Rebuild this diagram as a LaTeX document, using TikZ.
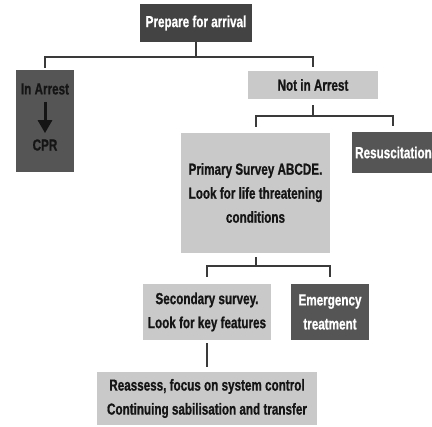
\documentclass[tikz,border=0pt]{standalone}
\usepackage{fontspec}
\setmainfont{Liberation Sans}[FakeStretch=0.73, BoldFeatures={FakeBold=0.8}]
\usetikzlibrary{arrows.meta}
\definecolor{darkbox}{HTML}{555555}
\definecolor{topbox}{HTML}{434343}
\definecolor{lightbox}{HTML}{C9C9C9}
\definecolor{linec}{HTML}{3A3A3A}
\definecolor{txt}{HTML}{151515}
\begin{document}
\begin{tikzpicture}[x=1pt,y=-1pt,
  box/.style={rectangle, inner sep=0pt, align=center, font=\fontsize{16}{24}\selectfont\bfseries},
  dark/.style={box, fill=darkbox, text=white},
  light/.style={box, fill=lightbox, text=txt},
  conn/.style={draw=linec, line width=2pt}]
\useasboundingbox (0,0) rectangle (432,427);
\clip (0,0) rectangle (432,427);
\fill[white] (0,0) rectangle (432,427);
% boxes
\node[dark, fill=topbox, minimum width=112pt, minimum height=38pt] (prep) at (196,23) {Prepare for arrival};
\node[dark, minimum width=58pt, minimum height=102pt] (inarr) at (45,121) {};
\node[box, text=txt] (ia) at (45,89) {In Arrest};
\node[box, text=txt] (cpr) at (45,145) {CPR};
\draw[-{Triangle[width=14pt,length=13pt]}, line width=3pt, draw=txt, fill=txt, shorten <=7pt, shorten >=6pt] (ia.south) -- (cpr.north);
\node[light, minimum width=130pt, minimum height=28pt] (nia) at (313,85) {Not in Arrest};
\node[light, minimum width=149pt, minimum height=120pt] (prim) at (255.5,193) {Primary Survey ABCDE.\\Look for life threatening\\conditions};
\node[dark, anchor=west, inner xsep=3pt, minimum height=41pt] (resus) at (352,152.5) {Resuscitation};
\node[light, minimum width=128pt, minimum height=56pt] (sec) at (207,312) {Secondary survey.\\Look for key features};
\node[dark, minimum width=78pt, minimum height=56pt] (emer) at (330,312) {Emergency\\treatment};
\node[light, minimum width=220pt, minimum height=53pt] (reas) at (207,398.5) {Reassess, focus on system control\\Continuing sabilisation and transfer};
% connectors
\draw[conn] (prep.south) -- ++(0,15) coordinate (j1);
\draw[conn, shorten >=2pt] (j1) -| (inarr.north);
\draw[conn, shorten >=4pt] (j1) -| (nia.north);
\draw[conn, shorten <=6pt] (nia.south) -- ++(0,17) coordinate (j2);
\draw[conn, shorten >=6pt] (j2) -| (prim.north);
\draw[conn, shorten >=6pt] (j2) -| (resus.north);
\draw[conn, shorten <=4pt] (prim.south) -- ++(0,13) coordinate (j3);
\draw[conn, shorten >=7pt] (j3) -| (sec.north);
\draw[conn, shorten >=7pt] (j3) -| (emer.north);
\draw[conn, shorten <=3pt, shorten >=5pt] (sec.south) -- (reas.north);
\end{tikzpicture}
\end{document}
